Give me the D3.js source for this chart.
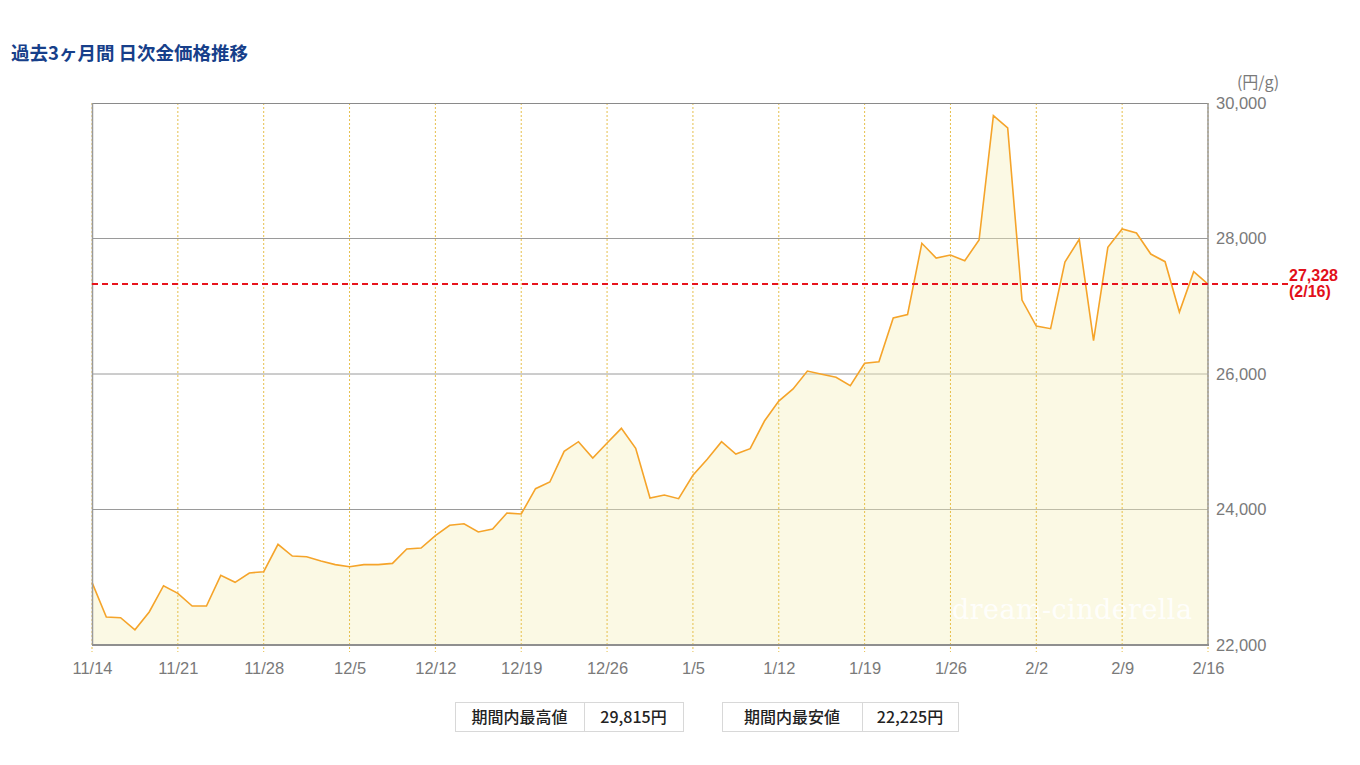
<!DOCTYPE html>
<html><head><meta charset="utf-8">
<script src="https://cdn.jsdelivr.net/npm/d3@7"></script>
<style>
html,body{margin:0;padding:0;background:#fff;}
svg{display:block;}
</style></head>
<body>
<svg id="chart" width="1360" height="765"></svg>
<script>
const title = "過去3ヶ月間 日次金価格推移";
const unitLabel = "(円/g)";
// daily gold price (円/g), 79 trading points from 11/14 to 2/16
const prices = [
  22925, 22413, 22403, 22225, 22487, 22875, 22763, 22576, 22576, 23028,
  22925, 23063, 23082, 23486, 23313, 23303, 23240, 23186, 23156, 23186,
  23186, 23205, 23417, 23432, 23614, 23767, 23790, 23668, 23712, 23948,
  23934, 24307, 24406, 24859, 25001, 24760, 24982, 25198, 24903, 24170,
  24214, 24160, 24505, 24741, 25001, 24819, 24897, 25306, 25601, 25779,
  26044, 25996, 25951, 25827, 26158, 26182, 26827, 26876, 27929, 27712,
  27756, 27672, 27978, 29815, 29631, 27092, 26708, 26669, 27653, 27988,
  26491, 27870, 28140, 28081, 27771, 27658, 26915, 27510, 27328
];
const tickIndex = [0, 6, 12, 18, 24, 30, 36, 42, 48, 54, 60, 66, 72, 78];
const tickLabels = ["11/14","11/21","11/28","12/5","12/12","12/19","12/26","1/5","1/12","1/19","1/26","2/2","2/9","2/16"];
const yTicks = [22000, 24000, 26000, 28000, 30000];
const latestValue = 27328;
const latestLabel = "(2/16)";
const summaryLabels = ["期間内最高値", "期間内最安値"];
const summaryValues = ["29,815円", "22,225円"];
const watermark = "dream-cinderella";

const svg = d3.select("#chart");
const L = 92, R = 1208, T = 103, B = 645;
const x = d3.scaleLinear().domain([0, prices.length - 1]).range([L, R]);
const y = d3.scaleLinear().domain([22000, 30000]).range([B, T]);
const fmt = d3.format(",");

// title
svg.append("text").attr("x", 11).attr("y", 60).text(title)
  .attr("font-family", "'Noto Sans CJK JP', sans-serif").attr("font-weight", 700)
  .attr("font-size", 18.5).attr("fill", "#173f8a");

// horizontal grid
svg.append("g").selectAll("line").data(yTicks.filter(d => d > 22000 && d < 30000)).join("line")
  .attr("x1", L).attr("x2", R).attr("y1", d => y(d)).attr("y2", d => y(d))
  .attr("stroke", "#9a9a9a").attr("stroke-width", 1);

// area
const area = d3.area().x((d, i) => x(i)).y0(y(22000)).y1(d => y(d));
svg.append("path").datum(prices).attr("d", area)
  .attr("fill", "#f4efbc").attr("fill-opacity", 0.4);

// watermark
svg.append("text").attr("x", 952).attr("y", 619).text(watermark)
  .attr("font-family", "'DejaVu Serif', serif").attr("font-size", 27)
  .attr("fill", "#ffffff").attr("fill-opacity", 0.9).attr("textLength", 240);

// vertical dotted grid
svg.append("g").selectAll("line").data(tickIndex).join("line")
  .attr("x1", d => x(d)).attr("x2", d => x(d)).attr("y1", T).attr("y2", B + 7)
  .attr("stroke", "#e6bf4c").attr("stroke-width", 1).attr("stroke-dasharray", "2,2");

// line
const line = d3.line().x((d, i) => x(i)).y(d => y(d));
svg.append("path").datum(prices).attr("d", line)
  .attr("fill", "none").attr("stroke", "#f5a42a").attr("stroke-width", 1.6)
  .attr("stroke-linejoin", "miter");

// frame
svg.append("line").attr("x1", L).attr("x2", R).attr("y1", T + 0.5).attr("y2", T + 0.5)
  .attr("stroke", "#8a8a8a").attr("stroke-width", 1);
svg.append("line").attr("x1", L + 0.5).attr("x2", L + 0.5).attr("y1", T).attr("y2", B)
  .attr("stroke", "#9a9a9a").attr("stroke-width", 1.5);
svg.append("line").attr("x1", R).attr("x2", R).attr("y1", T).attr("y2", B)
  .attr("stroke", "#9a9a9a").attr("stroke-width", 1.5);
svg.append("line").attr("x1", L).attr("x2", R + 1).attr("y1", B).attr("y2", B)
  .attr("stroke", "#8f8f8f").attr("stroke-width", 2);

// y axis labels (right)
const yAxis = d3.axisRight(y).tickValues(yTicks).tickFormat(fmt).tickSize(0).tickPadding(8);
const gy = svg.append("g").attr("transform", `translate(${R},0)`).call(yAxis);
gy.select(".domain").remove();
gy.selectAll("text").attr("font-family", "'Liberation Sans', Arial, sans-serif")
  .attr("font-size", 16.5).attr("fill", "#7a7a7a");
svg.append("text").attr("x", 1258).attr("y", 88).attr("text-anchor", "middle").text(unitLabel)
  .attr("font-family", "'Noto Sans CJK JP', sans-serif").attr("font-size", 16).attr("fill", "#7a7a7a");

// x axis labels
const xAxis = d3.axisBottom(x).tickValues(tickIndex)
  .tickFormat((d, i) => tickLabels[i]).tickSize(0).tickPadding(17);
const gx = svg.append("g").attr("transform", `translate(0,${B})`).call(xAxis);
gx.select(".domain").remove();
gx.selectAll("text").attr("font-family", "'Liberation Sans Narrow', 'Liberation Sans', sans-serif")
  .attr("font-size", 16.5).attr("fill", "#7a7a7a");

// latest price reference line
svg.append("line").attr("x1", L).attr("x2", 1288).attr("y1", y(latestValue)).attr("y2", y(latestValue))
  .attr("stroke", "#e8141c").attr("stroke-width", 2).attr("stroke-dasharray", "6,4");
svg.append("text").attr("x", 1289).attr("y", y(latestValue) - 3).text(fmt(latestValue))
  .attr("font-family", "'Liberation Sans', Arial, sans-serif").attr("font-weight", 700)
  .attr("font-size", 16).attr("fill", "#e2101a");
svg.append("text").attr("x", 1289).attr("y", y(latestValue) + 13).text(latestLabel)
  .attr("font-family", "'Liberation Sans', Arial, sans-serif").attr("font-weight", 700)
  .attr("font-size", 16).attr("fill", "#e2101a");

// summary boxes
const boxes = [
  {x0: 455, xm: 584, x1: 683},
  {x0: 722, xm: 862, x1: 958}
];
const gb = svg.append("g");
boxes.forEach((b, i) => {
  gb.append("rect").attr("x", b.x0 + 0.5).attr("y", 702.5).attr("width", b.x1 - b.x0).attr("height", 29)
    .attr("fill", "#fff").attr("stroke", "#d8d8d8");
  gb.append("line").attr("x1", b.xm + 0.5).attr("x2", b.xm + 0.5).attr("y1", 702.5).attr("y2", 731.5)
    .attr("stroke", "#d8d8d8");
  gb.append("text").attr("x", (b.x0 + b.xm) / 2).attr("y", 723).attr("text-anchor", "middle")
    .text(summaryLabels[i]).attr("font-family", "'Noto Sans CJK JP', sans-serif")
    .attr("font-weight", 500).attr("font-size", 16).attr("fill", "#222");
  gb.append("text").attr("x", (b.xm + b.x1) / 2).attr("y", 723).attr("text-anchor", "middle")
    .text(summaryValues[i]).attr("font-family", "'Noto Sans CJK JP', sans-serif")
    .attr("font-weight", 500).attr("font-size", 16).attr("fill", "#222");
});
</script>
</body></html>
